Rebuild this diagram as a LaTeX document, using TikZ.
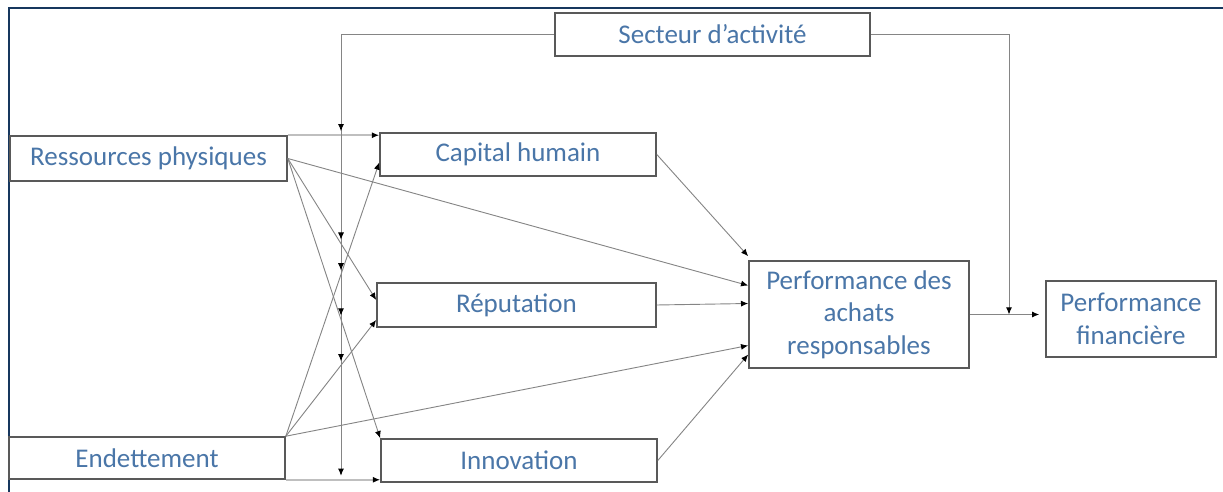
\documentclass[tikz,border=0pt]{standalone}
\usepackage{fontspec}
\setmainfont{Carlito}
\usetikzlibrary{arrows.meta, calc, intersections}
\definecolor{boxtext}{RGB}{74,118,168}
\definecolor{frameblue}{RGB}{23,55,94}
\tikzset{
  box/.style={draw=black!65, line width=1.1pt, fill=white, text=boxtext,
    align=center, inner sep=0pt, font=\fontsize{19.2}{23}\selectfont},
  link/.style={draw=black!48, line width=0.65pt},
  pale/.style={draw=black!25, line width=1.7pt},
  tip/.style={-{Latex[black,length=0.18cm,width=0.15cm]}}
}

\begin{document}
\begin{tikzpicture}[x=0.025cm, y=-0.025cm]
    \useasboundingbox (0,0) rectangle (1223,492);

    % Frame
    \draw[frameblue, line width=1.4pt] (9,492) -- (9,8) -- (1223,8);

    % Boxes
    \node[box, minimum width=7.875cm, minimum height=1.075cm] (sect) at (712.5,34.5) {Secteur d’activité};
    \node[box, minimum width=6.925cm, minimum height=1.125cm] (rp) at (148.5,158.5) {Ressources physiques};
    \node[box, minimum width=6.9cm, minimum height=1.05cm] (end) at (147,458) {Endettement};
    \node[box, minimum width=6.9cm, minimum height=1.075cm] (ch) at (518,154.5) {Capital humain};
    \node[box, minimum width=6.975cm, minimum height=1.1cm] (rep) at (516.5,305) {Réputation};
    \node[box, minimum width=6.9cm, minimum height=1.075cm] (inn) at (519,460.5) {Innovation};
    \node[box, minimum width=5.5cm, minimum height=2.675cm] (pa) at (859,314.5) {Performance des\\achats\\responsables};
    \node[box, minimum width=4.25cm, minimum height=1.9cm] (pf) at (1131,319) {Performance\\financière};

    % Helper columns for the moderator lines
    \coordinate (mx) at (341,0);
    \coordinate (rx) at (1009,0);

    % Resources -> mediators
    \draw[pale, tip, name path=rpch] (rp.north east) -- (rp.north east -| ch.west);
    \draw[link, tip, name path=rprep] (rp.east) -- ($(rep.west)+(0,-5)$);
    \draw[link, tip, name path=rpinn] (rp.east) -- (inn.north west);
    \draw[link, tip, name path=endch] (end.north east) -- ($(ch.west)+(0,8)$);
    \draw[link, tip, name path=endrep] (end.north east) -- ($(rep.west)+(0,15)$);
    \draw[pale, tip, name path=endinn] (end.south east) -- (end.south east -| inn.west);

    % Direct paths into performance des achats
    \draw[link, tip] (ch.east) -- ($(pa.north west)+(0,-4)$);
    \draw[link, tip] (rp.east) -- ($(pa.west)+(0,-29)$);
    \draw[link, tip] (rep.east) -- ($(pa.west)+(0,-11)$);
    \draw[link, tip] (end.north east) -- ($(pa.west)+(0,31)$);
    \draw[link, tip] (inn.east) -- ($(pa.west)+(0,40)$);
    \draw[link, tip, shorten >=0.15cm] (pa.east) -- (pa.east -| pf.west);

    % Moderator: secteur d'activite
    \draw[link, tip, name path=mod] (sect.west) -- (sect.west -| mx) -- ($(end.south east -| mx)+(0,-4)$);
    \foreach \p in {rpch, rprep, rpinn, endch, endrep} {
        \path[name intersections={of=mod and \p, by={c\p}}];
        \draw[link, tip] ($(c\p)+(0,-14)$) -- ($(c\p)+(0,-4)$);
    }
    \draw[link, tip] (sect.east) -- (sect.east -| rx) -- (pa.east -| rx);
\end{tikzpicture}
\end{document}
